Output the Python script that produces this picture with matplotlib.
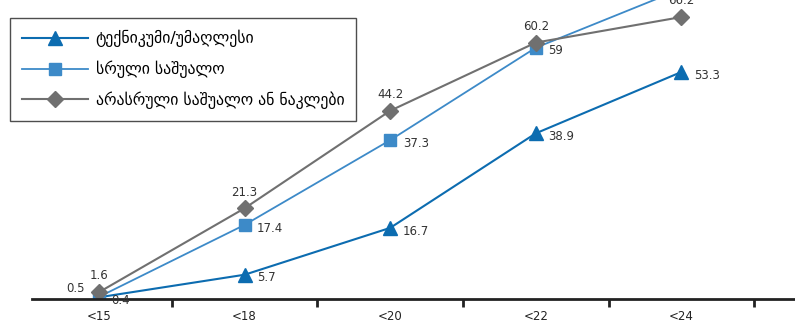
import numpy as np
import matplotlib.pyplot as plt

plt.rcParams['font.family'] = ['DejaVu Sans']

categories = ['<15', '<18', '<20', '<22', '<24']
tech = [0.4, 5.7, 16.7, 38.9, 53.3]
full_sec = [0.5, 17.4, 37.3, 59, 72.8]
incomplete = [1.6, 21.3, 44.2, 60.2, 66.2]
names = ['ტექნიკუმი/უმაღლესი', 'სრული საშუალო', 'არასრული საშუალო ან ნაკლები']

c_tech = '#0c6cb0'
c_full = '#3d8ac8'
c_inc = '#707070'

fig = plt.figure(figsize=(7.95, 3.24), dpi=100)
ax = fig.add_axes([32/795, 25/324, 1 - 32/795, 1 - 25/324])

x = np.arange(len(categories))
l1, = ax.plot(x, tech, color=c_tech, lw=1.5, marker='^', ms=10, label=names[0])
l2, = ax.plot(x, full_sec, color=c_full, lw=1.3, marker='s', ms=9, label=names[1])
l3, = ax.plot(x, incomplete, color=c_inc, lw=1.5, marker='D', ms=8, label=names[2])

ax.set_xlim(-0.46, 4.78)
ax.set_ylim(0, 70.2)

lab_kw = dict(fontsize=8.5, color='#333333')
for i, v in enumerate(tech):
    ax.annotate(f'{v:g}', (i, v), xytext=(9, -7), textcoords='offset points', ha='left', va='bottom', **lab_kw)
for i, v in enumerate(full_sec[:4]):
    if i == 0:
        ax.annotate(f'{v:g}', (i, v), xytext=(-10, 1), textcoords='offset points', ha='right', va='bottom', **lab_kw)
    else:
        ax.annotate(f'{v:g}', (i, v), xytext=(9, -7), textcoords='offset points', ha='left', va='bottom', **lab_kw)
for i, v in enumerate(incomplete):
    ax.annotate(f'{v:g}', (i, v), xytext=(0, 7), textcoords='offset points', ha='center', va='bottom',
                annotation_clip=False, **lab_kw)

for s in ['top', 'right', 'left']:
    ax.spines[s].set_visible(False)
ax.spines['bottom'].set_linewidth(2)
ax.spines['bottom'].set_color('#222222')
ax.set_yticks([])
ax.set_xticks(x)
ax.set_xticklabels(categories, fontsize=8.5, color='#222222')
ax.tick_params(axis='x', which='major', length=0, pad=8)
ax.set_xticks(x + 0.5, minor=True)
ax.tick_params(axis='x', which='minor', length=6, width=2, color='#222222')

leg = fig.legend(handles=[l1, l2, l3], loc='upper left', bbox_to_anchor=(10/795, 1 - 18/324),
                 fontsize=11.3, frameon=True, fancybox=False, edgecolor='#222222',
                 handlelength=4.2, labelspacing=0.85, borderpad=0.75, handletextpad=0.5,
                 borderaxespad=0)
leg.get_frame().set_linewidth(1.0)

fig.savefig('out.png', dpi=100)
